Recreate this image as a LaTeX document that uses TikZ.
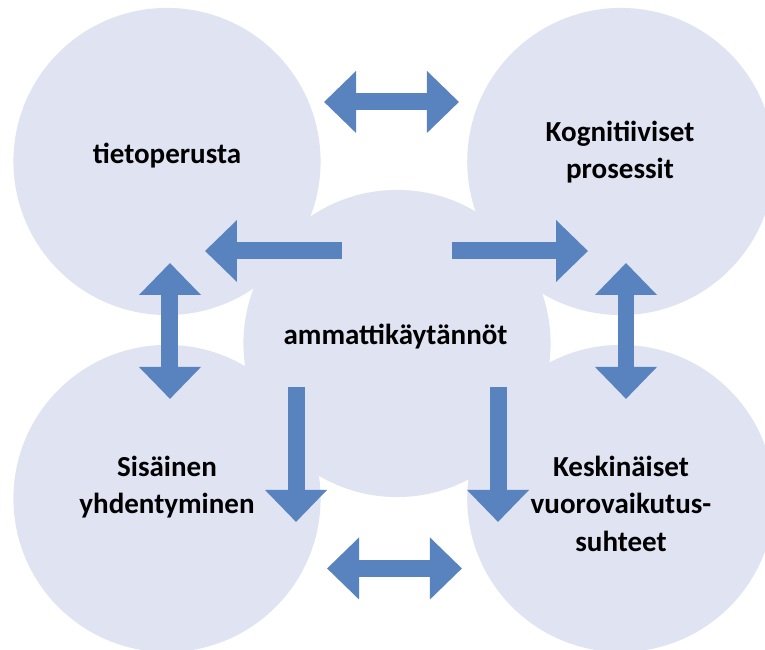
\documentclass[tikz,border=0pt]{standalone}
\usepackage{fontspec}
\setmainfont{Carlito}
\usetikzlibrary{arrows.meta}
\definecolor{bubblefill}{RGB}{223,227,242}
\definecolor{arrowblue}{RGB}{89,131,191}
\tikzset{font=\fontsize{21.6}{28}\selectfont\bfseries}
\tikzset{bubble/.style={circle,fill=bubblefill,inner sep=0pt,minimum size=8.03cm}}
\tikzset{onearrow/.style={draw=arrowblue,line width=0.444cm,-{Triangle[length=0.837cm,width=1.569cm]}}}
\tikzset{twoarrow/.style={draw=arrowblue,line width=0.444cm,{Triangle[length=0.837cm,width=1.569cm]}-{Triangle[length=0.837cm,width=1.569cm]}}}

\begin{document}
\begin{tikzpicture}[scale=1]
  \useasboundingbox (0,0) rectangle (20,16.993);
  % five bubbles
  \node[bubble] (tieto) at (4.366,12.771) {};
  \node[bubble] (kogn) at (16.23,12.771) {};
  \node[bubble] (sisa) at (4.366,3.961) {};
  \node[bubble] (kesk) at (16.23,3.961) {};
  \node[bubble] (ammatti) at (10.379,8.013) {};
  % arrow ends
  \coordinate (topL) at (8.471,14.327);
  \coordinate (topR) at (12.0,14.327);
  \coordinate (botL) at (8.549,2.131);
  \coordinate (botR) at (12.078,2.131);
  \coordinate (leftT) at (4.444,10.118);
  \coordinate (leftB) at (4.444,6.562);
  \coordinate (rightT) at (16.366,10.118);
  \coordinate (rightB) at (16.366,6.562);
  \coordinate (toTieto) at (5.359,10.431);
  \coordinate (fromTieto) at (8.941,10.431);
  \coordinate (fromKogn) at (11.817,10.431);
  \coordinate (toKogn) at (15.373,10.431);
  \coordinate (fromSisa) at (7.739,6.876);
  \coordinate (toSisa) at (7.739,3.346);
  \coordinate (fromKesk) at (13.020,6.876);
  \coordinate (toKesk) at (13.020,3.346);
  \draw[twoarrow] (topL) -- (topR);
  \draw[twoarrow] (botL) -- (botR);
  \draw[twoarrow] (leftT) -- (leftB);
  \draw[twoarrow] (rightT) -- (rightB);
  \draw[onearrow] (fromTieto) -- (toTieto);
  \draw[onearrow] (fromKogn) -- (toKogn);
  \draw[onearrow] (fromSisa) -- (toSisa);
  \draw[onearrow] (fromKesk) -- (toKesk);
  % texts
  \node[anchor=base] (tietotext) at (4.366,12.706) {tietoperusta};
  \node[align=center] (kogntext) at (16.209,13.02) {Kognitiiviset\\prosessit};
  \node[anchor=base] (ammattitext) at (10.340,7.992) {ammattikäytännöt};
  \node[align=center] (sisatext) at (4.366,4.259) {Sisäinen\\yhdentyminen};
  \node[align=center] (kesktext) at (16.235,3.820) {Keskinäiset\\vuorovaikutus-\\suhteet};
\end{tikzpicture}
\end{document}
